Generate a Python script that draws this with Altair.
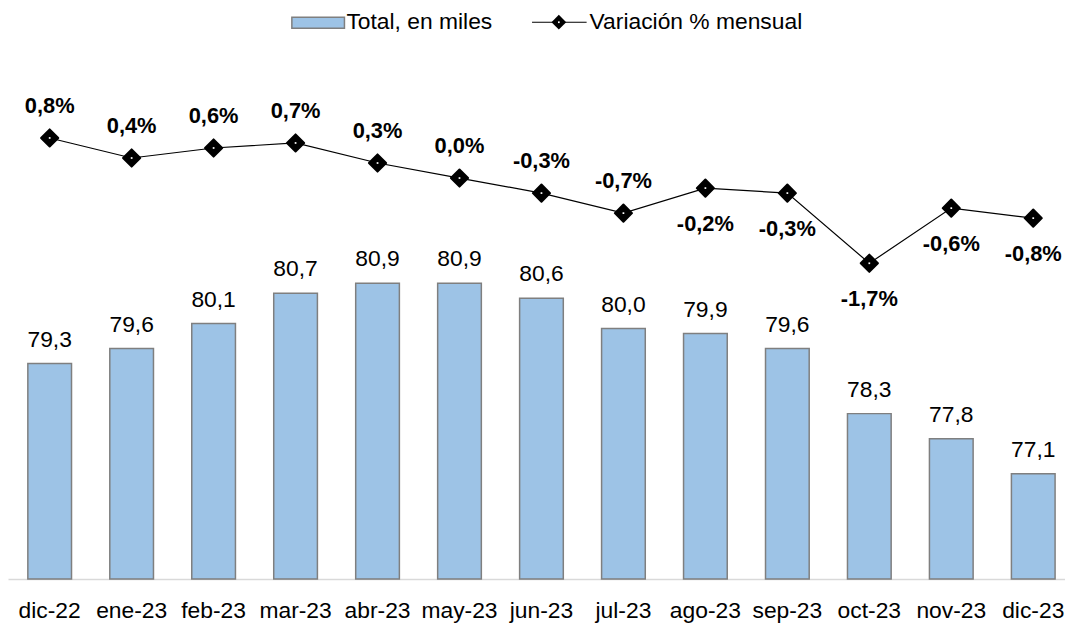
import altair as alt
import pandas as pd

months = ["dic-22", "ene-23", "feb-23", "mar-23", "abr-23", "may-23", "jun-23",
          "jul-23", "ago-23", "sep-23", "oct-23", "nov-23", "dic-23"]
total_miles = [79.3, 79.6, 80.1, 80.7, 80.9, 80.9, 80.6, 80.0, 79.9, 79.6, 78.3, 77.8, 77.1]
var_mensual = [0.8, 0.4, 0.6, 0.7, 0.3, 0.0, -0.3, -0.7, -0.2, -0.3, -1.7, -0.6, -0.8]
legend_labels = ["Total, en miles", "Variación % mensual"]

df = pd.DataFrame({"mes": months, "total": total_miles, "var": var_mensual,
                   "idx": list(range(len(months)))})
leg = pd.DataFrame({"label": legend_labels})

FONT = "Liberation Sans"
BAR_FILL = "#9DC3E6"
BAR_STROKE = "#7F7F7F"

xscale = alt.Scale(range=[0, 1075], paddingInner=0.467, paddingOuter=0.242)
xaxis = alt.Axis(title=None, labelAngle=0, ticks=False, labelFont=FONT, labelFontSize=23,
                 labelColor="#000000", domainColor="#D9D9D9", domainWidth=1.5,
                 labelPadding=21, grid=False)
X = alt.X("mes:N", sort=months, scale=xscale, axis=xaxis)

ybar = alt.Scale(domain=[75, 85], zero=False, nice=False)
yline = alt.Scale(domain=[-8, 2], zero=False, nice=False)

base = alt.Chart(df).transform_calculate(
    tlab="replace(format(datum.total, '.1f'), '.', ',')",
    vlab="replace(replace(format(datum.var, '.1f'), '.', ','), '\u2212', '-') + '%'",
)

bars = base.mark_bar(color=BAR_FILL, stroke=BAR_STROKE, strokeWidth=1.5).encode(
    x=X,
    y=alt.Y("total:Q", scale=ybar, axis=None),
    y2=alt.datum(75),
)
bar_text = base.mark_text(font=FONT, fontSize=23, color="#000000",
                          baseline="alphabetic", dy=-17).encode(
    x=X,
    y=alt.Y("total:Q", scale=ybar, axis=None),
    text="tlab:N",
)
bar_layer = alt.layer(bars, bar_text)

line = base.mark_line(color="#000000", strokeWidth=1.2).encode(
    x=X, y=alt.Y("var:Q", scale=yline, axis=None))
pts = base.mark_point(shape="diamond", filled=True, color="#000000", size=300,
                      opacity=1, stroke="#000000", strokeWidth=2, strokeJoin="round").encode(
    x=X, y=alt.Y("var:Q", scale=yline, axis=None))
dots = base.mark_point(shape="square", filled=True, color="#FFFFFF", size=3, opacity=1).encode(
    x=X, y=alt.Y("var:Q", scale=yline, axis=None))
lab_above = base.transform_filter("datum.idx < 8").mark_text(
    font=FONT, fontSize=22, fontWeight="bold", color="#000000",
    baseline="alphabetic", dy=-25).encode(
    x=X, y=alt.Y("var:Q", scale=yline, axis=None), text="vlab:N")
lab_below = base.transform_filter("datum.idx >= 8").mark_text(
    font=FONT, fontSize=22, fontWeight="bold", color="#000000",
    baseline="alphabetic", dy=43).encode(
    x=X, y=alt.Y("var:Q", scale=yline, axis=None), text="vlab:N")
line_layer = alt.layer(line, pts, dots, lab_above, lab_below)

# legend
LY = -56
lg = alt.Chart(leg)
leg_rect = lg.transform_filter(alt.datum.label == legend_labels[0]).mark_rect(
    fill=BAR_FILL, stroke=BAR_STROKE, strokeWidth=1.5).encode(
    x=alt.value(286), x2=alt.value(339), y=alt.value(LY - 5), y2=alt.value(LY + 6))
leg_text1 = lg.transform_filter(alt.datum.label == legend_labels[0]).mark_text(
    font=FONT, fontSize=23, align="left", baseline="middle", color="#000000").encode(
    x=alt.value(341), y=alt.value(LY), text="label:N")
leg_rule = lg.transform_filter(alt.datum.label == legend_labels[1]).mark_rule(
    color="#000000", strokeWidth=1.2).encode(
    x=alt.value(528), x2=alt.value(583), y=alt.value(LY))
leg_pt = lg.transform_filter(alt.datum.label == legend_labels[1]).mark_point(
    shape="diamond", filled=True, color="#000000", size=220, opacity=1).encode(
    x=alt.value(555), y=alt.value(LY))
leg_dot = lg.transform_filter(alt.datum.label == legend_labels[1]).mark_point(
    shape="square", filled=True, color="#FFFFFF", size=3, opacity=1).encode(
    x=alt.value(555), y=alt.value(LY))
leg_text2 = lg.transform_filter(alt.datum.label == legend_labels[1]).mark_text(
    font=FONT, fontSize=23, align="left", baseline="middle", color="#000000").encode(
    x=alt.value(586), y=alt.value(LY), text="label:N")
legend_layer = alt.layer(leg_rect, leg_text1, leg_rule, leg_pt, leg_dot, leg_text2)

chart = alt.layer(bar_layer, line_layer, legend_layer).resolve_scale(
    y="independent"
).properties(
    width=1065, height=505,
    autosize=alt.AutoSizeParams(type="none"),
    padding={"left": 0, "top": 68, "right": 0, "bottom": 46},
    background="#FFFFFF",
).configure_view(stroke=None)

chart.save("out.html", embed_options={"renderer": "svg", "actions": False})
